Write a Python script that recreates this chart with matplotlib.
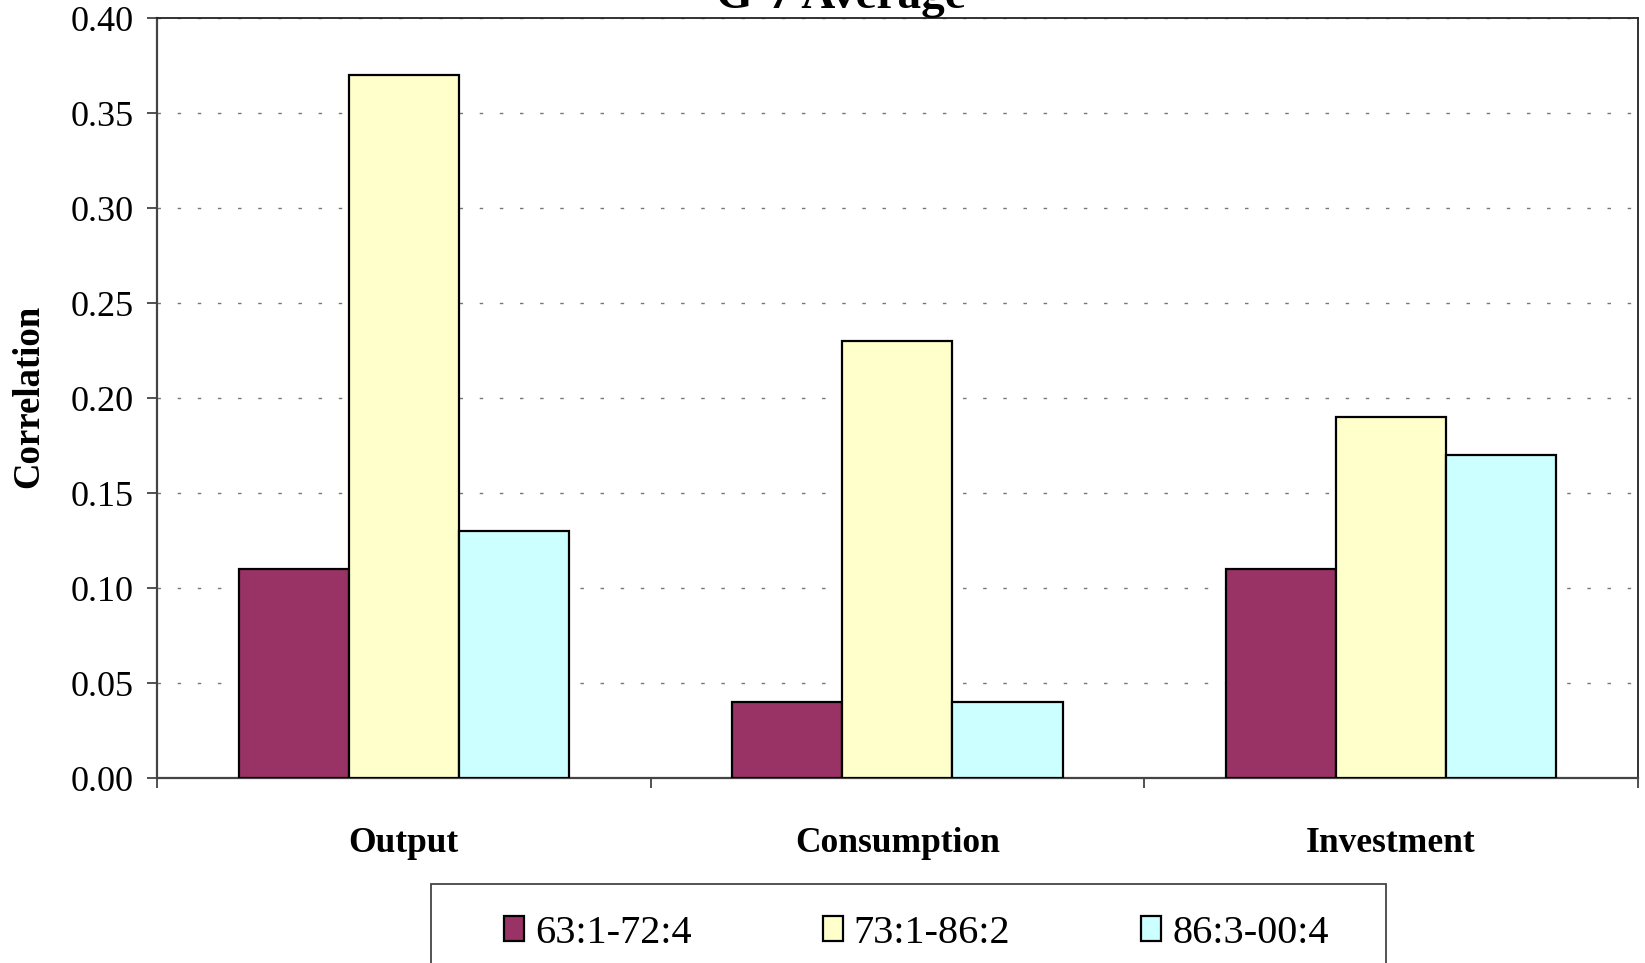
import matplotlib
matplotlib.use("Agg")
import matplotlib.pyplot as plt
from matplotlib.patches import Rectangle
import numpy as np

# G-7 average correlations by sub-period
categories = ["Output", "Consumption", "Investment"]
periods = ["63:1-72:4", "73:1-86:2", "86:3-00:4"]
corr_6372 = [0.11, 0.04, 0.11]
corr_7386 = [0.37, 0.23, 0.19]
corr_8600 = [0.13, 0.04, 0.17]
y_ticks = [0.00, 0.05, 0.10, 0.15, 0.20, 0.25, 0.30, 0.35, 0.40]

colors = ["#993366", "#FFFFCC", "#CCFFFF"]

plt.rcParams["font.family"] = ["Liberation Serif", "DejaVu Serif"]

fig = plt.figure(figsize=(16.45, 9.63), dpi=100)
ax = fig.add_axes([0.0954, 0.1921, 0.9003, 0.7892])

x = np.arange(len(categories))
width = 0.223
series = [corr_6372, corr_7386, corr_8600]
for j, (vals, col, lab) in enumerate(zip(series, colors, periods)):
    ax.bar(x + (j - 1) * width, vals, width, color=col, edgecolor="black",
           linewidth=1.6, label=lab, zorder=3)

ax.set_xlim(-0.5, 2.5)
ax.set_ylim(0, 0.40)
ax.set_yticks(y_ticks)
ax.set_yticklabels([f"{v:.2f}" for v in y_ticks])
ax.tick_params(axis="y", labelsize=26, length=7, width=1.2, pad=10, color="#333333")

# category labels sit between the boundary ticks
ax.set_xticks(x)
ax.set_xticklabels(categories, fontweight="bold")
ax.tick_params(axis="x", which="major", length=0, labelsize=25.5, pad=35)
ax.set_xticks([-0.5, 0.5, 1.5, 2.5], minor=True)
ax.tick_params(axis="x", which="minor", length=7, width=1.2, color="#333333")

ax.grid(axis="y", color="#777777", linestyle=(0, (2.5, 12)), linewidth=1.0, zorder=0)
ax.set_axisbelow(True)
for side in ["left", "bottom"]:
    ax.spines[side].set_color("#444444")
    ax.spines[side].set_linewidth(1.6)
for side in ["top", "right"]:
    ax.spines[side].set_color("#222222")
    ax.spines[side].set_linewidth(1.3)

fig.text(0.511, 0.9917, "G-7 Average", ha="center", va="baseline",
         fontsize=34, fontweight="bold")
fig.text(0.0176, 0.588, "Correlation", ha="center", va="center", rotation=90,
         fontsize=26.5, fontweight="bold")

# legend box runs off the bottom edge
fig.patches.append(Rectangle((0.262, -0.05), 0.5805, 0.132, transform=fig.transFigure,
                             facecolor="white", edgecolor="#444444", linewidth=1.3))
fig.legend(loc="center", bbox_to_anchor=(0.557, 0.031), ncol=3, frameon=False,
           fontsize=29, handlelength=0.5, handleheight=0.6, handletextpad=0.27,
           columnspacing=3.25)

fig.savefig("out.png", dpi=100)
